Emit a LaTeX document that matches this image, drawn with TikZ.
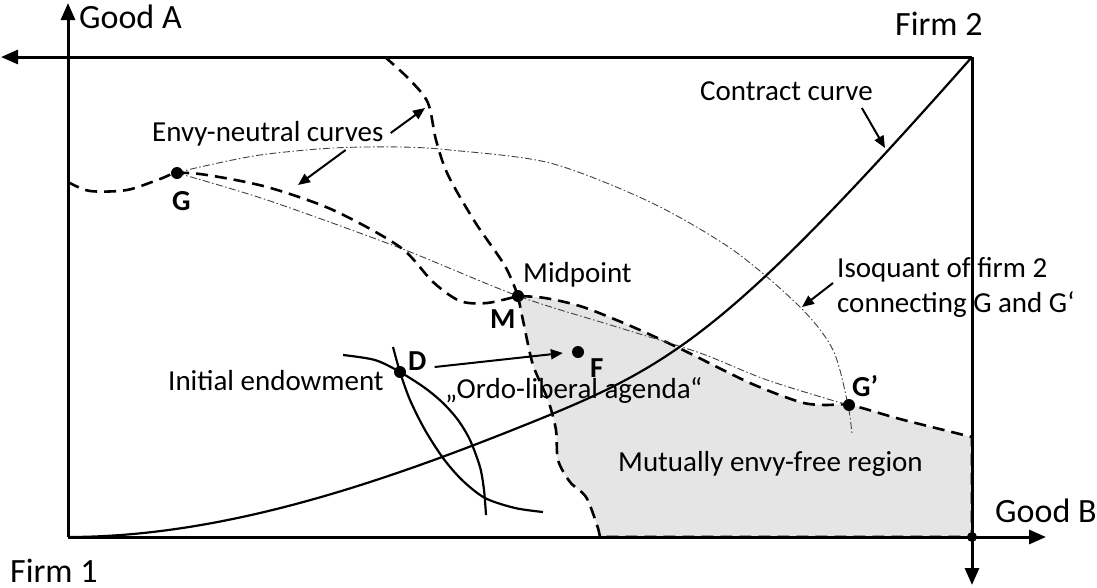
\documentclass[tikz,border=0pt]{standalone}
\usepackage{fontspec}
\setmainfont{Carlito}
\usetikzlibrary{arrows.meta,calc}

\begin{document}
\begin{tikzpicture}[x=1pt,y=-1pt,
    font=\fontsize{29}{35}\selectfont,
    axis/.style={line width=3pt,-{Triangle[length=17pt,width=14pt]}},
    solidcurve/.style={line width=2.2pt},
    envy/.style={line width=2.6pt,dash pattern=on 12pt off 7pt},
    isoq/.style={line width=0.9pt,black!75,
        dash pattern=on 7pt off 2.5pt on 1.5pt off 2.5pt},
    pointer/.style={line width=2pt,-{Triangle[length=12pt,width=10pt]}},
    dot/.style={circle,fill,inner sep=0pt,minimum size=12pt},
    lbl/.style={anchor=base west,inner sep=0pt},
    axislbl/.style={lbl,font=\fontsize{34}{40}\selectfont},
    ptlbl/.style={lbl,font=\fontsize{29}{35}\selectfont\bfseries}]

% Page is as large as the picture.
\useasboundingbox (0,0) rectangle (1097,587);

% Box corners: firm 1 lower left, firm 2 upper right.
\coordinate (BOXO) at (68,537);
\coordinate (BOXA) at (972,537);
\coordinate (BOXB) at (972,57);

% Mutually envy-free region.
% Its upper edges are the two envy-neutral curves below and right of M.
\draw[envy,fill=black!10]
    plot[smooth] coordinates {(518,296) (524,325) (533,365) (548,400)
        (556,430) (558,460) (570,482) (586,497) (597,525) (600,537)}
    -- (BOXA) -- (972,437)
    -- plot[smooth] coordinates {(972,437) (900,419) (850,405) (825,405)
        (800,402) (750,383) (683,350) (633,327) (583,307) (545,298)
        (518,296)};

% Isoquant of firm 2 through G and G'.
\draw[isoq]
    plot[smooth] coordinates {(177,173) (200,167) (260,155) (333,148)
        (400,147) (450,150) (550,163) (650,202) (733,250) (800,307)
        (833,350) (848,405) (852,435)};
% Thin line from G over M to G'.
\draw[isoq]
    plot[smooth] coordinates {(177,173) (267,200) (400,248) (518,296)
        (617,327) (700,353) (767,380) (848,405)};

% Envy-neutral curve, upper part of the steep one.
\draw[envy]
    plot[smooth] coordinates {(385,57) (410,80) (428,103) (436,140)
        (448,175) (475,222) (505,266) (518,296)};
% Envy-neutral curve, left part of the flat one.
\draw[envy]
    plot[smooth] coordinates {(68,182) (90,191) (127,190) (160,179)
        (177,173) (207,175) (267,187) (333,210) (400,247) (433,282)
        (460,301) (487,303) (518,296)};

% Contract curve from firm 1 to firm 2.
\draw[solidcurve]
    (BOXO) .. controls (218,537) and (370,487) .. (520,427)
    .. controls (670,367) and (722,339.5) .. (BOXB);

% The two isoquants through the initial endowment.
\draw[solidcurve]
    plot[smooth] coordinates {(343,355) (375,360) (400,372) (425,388)
        (443,403) (458,420) (470,440) (480,467) (484,490) (486,515)};
\draw[solidcurve]
    plot[smooth] coordinates {(393,347) (400,372) (410,400) (425,430)
        (443,458) (462,480) (485,498) (515,508) (543,512)};

% Axes of firm 1.
\draw[axis] (BOXO) -- (68,3);
\draw[axis] (BOXO) -- (1046,537);
% Axes of firm 2.
\draw[axis] (BOXB) -- (1,57);
\draw[axis] (BOXB) -- (972,585);
\node[dot,minimum size=10pt] (corner) at (BOXA) {};

% Axis and firm labels.
\node[axislbl] (goodA) at (79,28) {Good A};
\node[axislbl] (goodB) at (995,522) {Good B};
\node[axislbl] (firm1) at (10,582) {Firm 1};
\node[axislbl] (firm2) at (895,35) {Firm 2};

% Points on the curves.
\node[dot] (G) at (177,173) {};
\node[dot] (M) at (518,296) {};
\node[dot] (D) at (400,372) {};
\node[dot] (F) at (578,352) {};
\node[dot] (Gp) at (849,405) {};

\node[ptlbl] (Glabel) at (172,210) {G};
\node[ptlbl] (Mlabel) at (490,328) {M};
\node[ptlbl] (Dlabel) at (408,370) {D};
\node[ptlbl] (Flabel) at (590,377) {F};
\node[ptlbl] (Gplabel) at (852,396) {G’};

% Texts.
\node[lbl] (mid) at (523,282) {Midpoint};
\node[lbl] (init) at (168,390) {Initial endowment};
\node[lbl] (ordo) at (445,398) {„Ordo-liberal agenda“};
\node[lbl] (region) at (618,471) {Mutually envy-free region};
\node[lbl] (contract) at (700,100) {Contract curve};
\node[lbl] (envylabel) at (152,141) {Envy-neutral curves};
\node[lbl,align=left] (isolabel) at (837,312)
    {Isoquant of firm 2\\connecting G and G‘};

% Pointers from the texts to the curves.
\coordinate (contracthit) at (885,148);
\coordinate (envyhitA) at (425,108);
\coordinate (envyhitB) at (298,185);
\coordinate (isohit) at (802,307);

\draw[pointer] ($(contract.base east)+(-11,8)$) -- (contracthit);
\draw[pointer] ($(envylabel.base east)+(7,-8)$) -- (envyhitA);
\draw[pointer] ($(envylabel.base east)+(-38,9)$) -- (envyhitB);
\draw[pointer] ($(isolabel.base west)+(-4,-29)$) -- (isohit);

% From the endowment D towards F.
\draw[pointer,shorten >=9pt] ($(Dlabel.base east)+(8,-3)$) -- (F.west);

\end{tikzpicture}
\end{document}
